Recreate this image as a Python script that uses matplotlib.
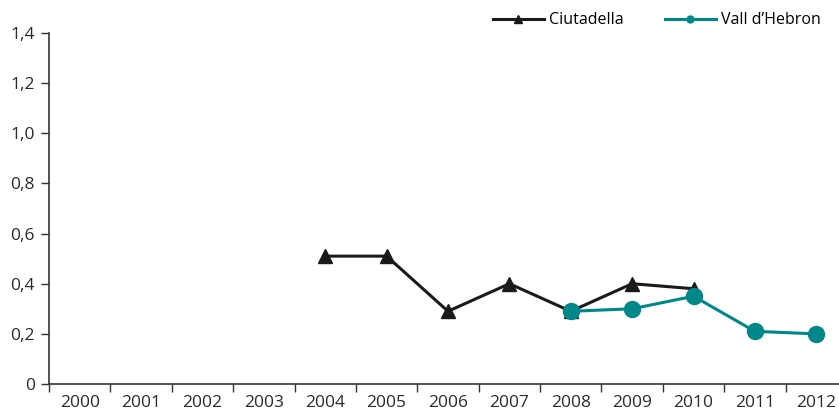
import matplotlib
matplotlib.use("Agg")
import matplotlib.pyplot as plt
import numpy as np
from matplotlib.lines import Line2D

years = [str(y) for y in range(2000, 2013)]
ciutadella_years = [2004, 2005, 2006, 2007, 2008, 2009, 2010]
ciutadella_vals = [0.51, 0.51, 0.29, 0.40, 0.29, 0.40, 0.38]
hebron_years = [2008, 2009, 2010, 2011, 2012]
hebron_vals = [0.29, 0.30, 0.35, 0.21, 0.20]
yticks = [0, 0.2, 0.4, 0.6, 0.8, 1.0, 1.2, 1.4]
ytick_labels = ["0", "0,2", "0,4", "0,6", "0,8", "1,0", "1,2", "1,4"]

plt.rcParams['font.family'] = ['Open Sans', 'DejaVu Sans']
teal = "#00878A"
axc = "#333333"
txtc = "#2a2a2a"

fig = plt.figure(figsize=(8.39, 4.11), dpi=100)
ax = fig.add_axes([49/839, 27/411, 798/839, 351/411])

cx = [y - 2000 for y in ciutadella_years]
hx = [y - 2000 for y in hebron_years]
ax.plot(cx, ciutadella_vals, color="#1a1a1a", lw=2.2, marker="^", ms=10, zorder=3, clip_on=False)
ax.plot(hx, hebron_vals, color=teal, lw=2.2, marker="o", ms=11.5, zorder=4, clip_on=False)

ax.set_xlim(-0.5, 12.5)
ax.set_ylim(0, 1.4)
ax.set_xticks(range(13))
ax.set_xticklabels(years, fontsize=12.5, color=txtc)
ax.set_xticks(np.arange(-0.5, 13, 1), minor=True)
ax.tick_params(axis="x", which="major", length=0, pad=8)
ax.tick_params(axis="x", which="minor", length=6, width=1, color=axc, direction="out")
ax.set_yticks(yticks)
ax.set_yticklabels(ytick_labels, fontsize=12.5, color=txtc)
ax.tick_params(axis="y", length=6, width=1, color=axc, direction="out", pad=4)

for s in ["top", "right"]:
    ax.spines[s].set_visible(False)
for s in ["left", "bottom"]:
    ax.spines[s].set_color(axc)
    ax.spines[s].set_linewidth(1.2)

handles = [
    Line2D([], [], color="#1a1a1a", lw=2.2, marker="^", ms=6),
    Line2D([], [], color=teal, lw=2.2, marker="o", ms=5),
]
fig.legend(handles, ["Ciutadella", "Vall d\u2019Hebron"], loc="upper right",
           bbox_to_anchor=(0.995, 1.005), ncol=2, frameon=False, fontsize=11.5,
           handlelength=3.2, handletextpad=0.3, columnspacing=2.6)

fig.savefig("out.png", dpi=100)
